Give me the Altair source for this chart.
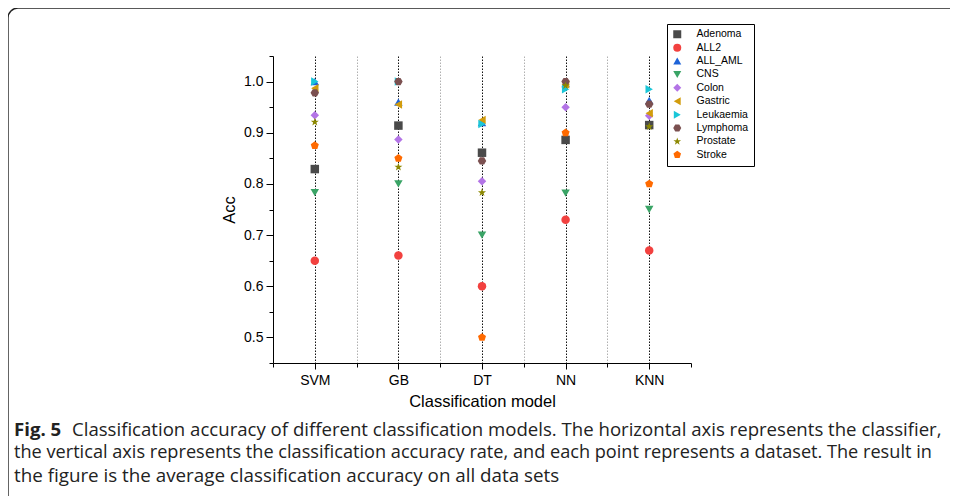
import altair as alt
import pandas as pd

models = ["SVM", "GB", "DT", "NN", "KNN"]
datasets = ["Adenoma", "ALL2", "ALL_AML", "CNS", "Colon", "Gastric",
            "Leukaemia", "Lymphoma", "Prostate", "Stroke"]

# accuracy per dataset, in model order SVM, GB, DT, NN, KNN
adenoma   = [0.829, 0.914, 0.861, 0.886, 0.915]
all2      = [0.650, 0.660, 0.600, 0.730, 0.670]
all_aml   = [1.000, 0.960, 0.920, 0.996, 0.963]
cns       = [0.783, 0.800, 0.700, 0.782, 0.750]
colon     = [0.934, 0.887, 0.805, 0.950, 0.933]
gastric   = [0.987, 0.955, 0.925, 0.995, 0.938]
leukaemia = [1.000, 1.000, 0.917, 0.985, 0.985]
lymphoma  = [0.978, 1.000, 0.845, 1.000, 0.956]
prostate  = [0.921, 0.833, 0.783, 0.992, 0.912]
stroke    = [0.875, 0.850, 0.500, 0.900, 0.800]

series = [adenoma, all2, all_aml, cns, colon, gastric, leukaemia, lymphoma, prostate, stroke]

colors = ["#4a4a4a", "#f2413f", "#1d63d8", "#3aa466", "#b374e6", "#d29c0c",
          "#1ac6d8", "#7b5050", "#8c8800", "#ff6a00"]

hexagon = "M-1,0L-0.5,-0.866L0.5,-0.866L1,0L0.5,0.866L-0.5,0.866Z"
pentagon = "M0,-1L0.951,-0.309L0.588,0.809L-0.588,0.809L-0.951,-0.309Z"
star = ("M0,-1L0.235,-0.324L0.951,-0.309L0.380,0.124L0.588,0.809L0,0.4"
        "L-0.588,0.809L-0.380,0.124L-0.951,-0.309L-0.235,-0.324Z")
shapes = ["square", "circle", "triangle-up", "triangle-down", "diamond",
          "triangle-left", "triangle-right", hexagon, star, pentagon]

rows = []
for ds, vals in zip(datasets, series):
    for i, (m, v) in enumerate(zip(models, vals)):
        rows.append({"dataset": ds, "model": m, "pos": i + 1, "acc": v})
df = pd.DataFrame(rows)
df["order"] = df["dataset"].map({d: k for k, d in enumerate(datasets)})

FONT = "Liberation Sans"
label_js = "[" + ",".join("'%s'" % m for m in models) + "]"

x_axis = alt.Axis(
    values=[0.5, 1, 1.5, 2, 2.5, 3, 3.5, 4, 4.5, 5, 5.5],
    labelExpr="datum.value % 1 == 0 ? " + label_js + "[datum.value - 1] : ''",
    grid=True,
    gridColor={"condition": {"test": "datum.value % 1 == 0", "value": "#111111"}, "value": "#b0b0b0"},
    gridOpacity={"condition": {"test": "datum.value < 0.9 || datum.value > 5.1", "value": 0}, "value": 1},
    gridDash=[1.5, 1.5],
    tickSize={"condition": {"test": "datum.value % 1 == 0", "value": 6}, "value": 4},
    tickColor="black", domainColor="black",
    labelFont=FONT, labelFontSize=14, labelColor="black", labelPadding=4,
    labelFlush=False, labelOverlap=False,
    titleFont=FONT, titleFontSize=16.5, titleFontWeight="normal", titleColor="black",
    titlePadding=6,
)
y_axis = alt.Axis(
    values=[0.45, 0.5, 0.55, 0.6, 0.65, 0.7, 0.75, 0.8, 0.85, 0.9, 0.95, 1.0, 1.05],
    labelExpr="round(datum.value * 100) % 10 == 0 ? format(datum.value, '.1f') : ''",
    grid=False,
    tickSize={"condition": {"test": "round(datum.value * 100) % 10 == 0", "value": 7}, "value": 4},
    tickColor="black", domainColor="black",
    labelFont=FONT, labelFontSize=14, labelColor="black", labelPadding=3,
    labelOverlap=False, labelFlush=False,
    titleFont=FONT, titleFontSize=16.5, titleFontWeight="normal", titleColor="black",
    titlePadding=6,
)

points = alt.Chart(df).mark_point(filled=True, size=72, opacity=1).encode(
    x=alt.X("pos:Q", title="Classification model",
            scale=alt.Scale(domain=[0.5, 5.5], nice=False, zero=False), axis=x_axis),
    y=alt.Y("acc:Q", title="Acc",
            scale=alt.Scale(domain=[0.45, 1.05], nice=False, zero=False), axis=y_axis),
    color=alt.Color("dataset:N", title=None,
                    scale=alt.Scale(domain=datasets, range=colors),
                    legend=alt.Legend(orient="none", legendX=394, legendY=-32,
                                      strokeColor="black", fillColor="white",
                                      padding=5, labelFont=FONT, labelFontSize=10.5,
                                      labelColor="black", symbolSize=64,
                                      symbolStrokeWidth=0, rowPadding=2.4,
                                      labelOffset=14)),
    shape=alt.Shape("dataset:N", title=None,
                    scale=alt.Scale(domain=datasets, range=shapes)),
    order=alt.Order("order:Q"),
)

one = alt.Data(values=[{}])
BORDER = "#222222"

# figure frame: top edge, left edge and rounded top-left corner
frame_top = alt.Chart(one).mark_rule(color=BORDER, strokeWidth=1.4).encode(
    x=alt.value(-255), x2=alt.value(700), y=alt.value(-48))
frame_left = alt.Chart(one).mark_rule(color=BORDER, strokeWidth=1.4).encode(
    x=alt.value(-265), y=alt.value(-38), y2=alt.value(452))
frame_corner = alt.Chart(one).mark_arc(
    fillOpacity=0, stroke=BORDER, strokeWidth=1.4, innerRadius=10, outerRadius=10,
    theta=4.7124, theta2=6.2832
).encode(x=alt.value(-255), y=alt.value(-38))

CAP_FONT = "Open Sans"
CAP_COLOR = "#222222"
fig_label = alt.Chart(one).mark_text(
    text="Fig. 5", font=CAP_FONT, fontSize=18.6, fontWeight="bold",
    align="left", baseline="middle", color=CAP_COLOR
).encode(x=alt.value(-259), y=alt.value(374))

cap1 = alt.Chart(one).mark_text(
    text="Classification accuracy of different classification models. The horizontal axis represents the classifier,",
    font=CAP_FONT, fontSize=18.6, align="left", baseline="middle", color=CAP_COLOR
).encode(x=alt.value(-201), y=alt.value(374))

cap2 = alt.Chart(one).mark_text(
    text="the vertical axis represents the classification accuracy rate, and each point represents a dataset. The result in",
    font=CAP_FONT, fontSize=18.15, align="left", baseline="middle", color=CAP_COLOR
).encode(x=alt.value(-259), y=alt.value(397))

cap3 = alt.Chart(one).mark_text(
    text="the figure is the average classification accuracy on all data sets",
    font=CAP_FONT, fontSize=18.8, align="left", baseline="middle", color=CAP_COLOR
).encode(x=alt.value(-259), y=alt.value(420))

chart = alt.layer(frame_top, frame_left, frame_corner, points,
                  fig_label, cap1, cap2, cap3).properties(
    width=418, height=307,
    autosize=alt.AutoSizeParams(type="none"),
    padding={"left": 265, "top": 48, "right": 259, "bottom": 133},
).configure_view(stroke=None)

chart.save("out.html", embed_options={"renderer": "svg", "actions": False})
